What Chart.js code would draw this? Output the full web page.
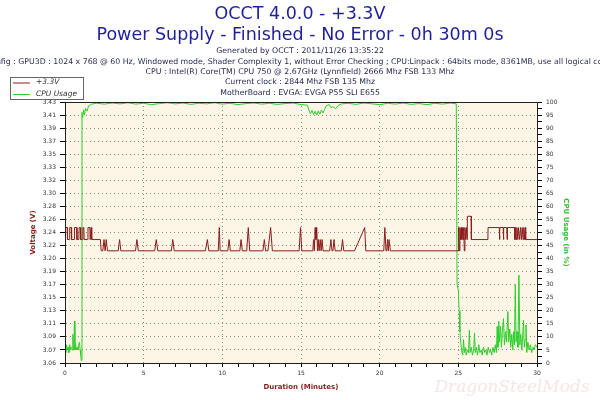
<!DOCTYPE html>
<html>
<head>
<meta charset="utf-8">
<script src="https://cdn.jsdelivr.net/npm/chart.js@4.4.0/dist/chart.umd.min.js"></script>
<style>
  html, body { margin: 0; padding: 0; background: #ffffff; }
  #wrap { width: 600px; height: 400px; }
</style>
</head>
<body>
<div id="wrap"><canvas id="chart"></canvas></div>
<script>
const titleLines = ['OCCT 4.0.0 - +3.3V', 'Power Supply - Finished - No Error - 0h 30m 0s'];
const infoLines = [
  'Generated by OCCT : 2011/11/26 13:35:22',
  'Config : GPU3D : 1024 x 768 @ 60 Hz, Windowed mode, Shader Complexity 1, without Error Checking ; CPU:Linpack : 64bits mode, 8361MB, use all logical cores',
  'CPU : Intel(R) Core(TM) CPU 750 @ 2.67GHz (Lynnfield) 2666 Mhz FSB 133 Mhz',
  'Current clock : 2844 Mhz FSB 135 Mhz',
  'MotherBoard : EVGA: EVGA P55 SLI E655'
];
const voltTickLabels = ['3.06', '3.07', '3.09', '3.11', '3.13', '3.15', '3.17', '3.19', '3.20', '3.22', '3.24',
  '3.26', '3.28', '3.30', '3.32', '3.33', '3.35', '3.37', '3.39', '3.41', '3.43'];
const voltMin = 3.06;
const voltMax = 3.43;

// +3.3V trace (minutes, volts)
const voltMinutes = [0.00, 0.02, 0.14, 0.16, 0.28, 0.30, 0.40, 0.42, 0.58, 0.60, 0.74, 0.76, 0.88, 0.90, 0.98, 1.00,
  1.12, 1.14, 1.20, 1.22, 1.44, 1.46, 1.58, 1.60, 1.66, 1.70, 2.25, 2.30, 2.40, 2.48, 2.55, 2.62, 2.70,
  3.38, 3.47, 3.55, 4.48, 4.57, 4.66, 5.70, 5.80, 5.90, 6.76, 6.85, 6.94, 8.92, 9.05, 9.14, 9.74, 9.81, 9.86,
  10.35, 10.43, 10.51, 11.11, 11.19, 11.27, 11.55, 11.65, 11.74, 12.58, 12.67, 12.75, 12.90, 13.07, 13.18,
  14.88, 14.97, 15.05, 15.75, 15.80, 15.85, 15.90, 15.95, 16.00, 16.05, 16.10, 16.15, 16.22, 16.28, 16.34, 16.40,
  16.82, 16.90, 16.97, 17.03, 17.10, 17.17, 17.56, 17.64, 17.72, 18.40, 19.05, 19.12, 20.26, 20.33, 20.40,
  20.45, 20.50, 20.55, 20.60, 20.68, 24.98, 25.00, 25.04, 25.07, 25.10, 25.14, 25.18, 25.22, 25.26, 25.30,
  25.34, 25.38, 25.42, 25.47, 25.52, 25.56, 25.57, 25.82, 25.83, 26.88, 26.89, 27.60, 27.62, 27.64, 27.85,
  27.87, 27.89, 28.08, 28.10, 28.12, 28.58, 28.60, 28.63, 28.68, 28.72, 28.78, 28.82, 28.90, 28.95, 29.02,
  29.06, 29.12, 29.16, 29.22, 29.26, 29.28, 30.00];
const voltValues = [3.235, 3.252, 3.252, 3.235, 3.235, 3.252, 3.252, 3.235, 3.235, 3.252, 3.252, 3.235, 3.235, 3.252, 3.252, 3.235,
  3.235, 3.252, 3.252, 3.235, 3.235, 3.252, 3.252, 3.235, 3.252, 3.235, 3.235, 3.219, 3.219, 3.235, 3.219, 3.235, 3.219,
  3.219, 3.235, 3.219, 3.219, 3.235, 3.219, 3.219, 3.235, 3.219, 3.219, 3.235, 3.219, 3.219, 3.235, 3.219, 3.219, 3.252, 3.219,
  3.219, 3.235, 3.219, 3.219, 3.235, 3.219, 3.219, 3.252, 3.219, 3.219, 3.235, 3.219, 3.219, 3.252, 3.219,
  3.219, 3.252, 3.219, 3.219, 3.235, 3.219, 3.252, 3.235, 3.252, 3.219, 3.235, 3.219, 3.235, 3.219, 3.235, 3.219,
  3.219, 3.235, 3.219, 3.219, 3.235, 3.219, 3.219, 3.235, 3.219, 3.219, 3.252, 3.219, 3.219, 3.252, 3.219,
  3.219, 3.235, 3.219, 3.235, 3.219, 3.219, 3.235, 3.252, 3.219, 3.252, 3.235, 3.252, 3.235, 3.252, 3.235,
  3.252, 3.219, 3.252, 3.235, 3.252, 3.235, 3.268, 3.268, 3.235, 3.235, 3.252, 3.252, 3.235, 3.252, 3.252,
  3.235, 3.252, 3.252, 3.235, 3.252, 3.252, 3.235, 3.252, 3.235, 3.252, 3.235, 3.252, 3.235, 3.252, 3.235,
  3.252, 3.235, 3.252, 3.235, 3.252, 3.235, 3.235];

// CPU usage trace (minutes, %)
const cpuMinutes = [0.00, 0.05, 0.10, 0.15, 0.20, 0.25, 0.30, 0.35, 0.40, 0.45, 0.50, 0.53, 0.57, 0.60, 0.63, 0.68,
  0.72, 0.77, 0.82, 0.87, 0.92, 0.96, 1.00, 1.03, 1.08, 1.12, 1.18, 1.24, 1.30, 1.40, 1.50, 1.70,
  2.0, 2.5, 3.0, 3.5, 4.0, 4.5, 5.0, 5.5, 6.0, 6.5, 7.0, 7.5, 8.0, 8.5, 9.0, 9.5, 10.0, 10.5, 11.0, 11.5,
  12.0, 12.5, 13.0, 13.5, 14.0, 14.5, 15.0, 15.4, 15.5, 15.6, 15.7, 15.8, 15.9, 16.0, 16.1, 16.2, 16.3, 16.4,
  16.5, 16.6, 16.8, 16.9, 17.0, 17.2, 17.4, 17.6, 18.0, 18.5, 19.0, 19.5, 20.0, 20.5, 21.0, 21.5, 22.0, 22.5,
  23.0, 23.5, 24.0, 24.5, 24.87, 24.92, 25.00, 25.05, 25.10, 25.15, 25.20, 25.28, 25.33, 25.38, 25.45, 25.50,
  25.58, 25.65, 25.70, 25.75, 25.82, 25.90, 25.97, 26.03, 26.08, 26.15, 26.22, 26.30, 26.37, 26.45, 26.52,
  26.60, 26.68, 26.75, 26.82, 26.90, 26.98, 27.05, 27.12, 27.20, 27.28, 27.35, 27.42, 27.47, 27.52, 27.57,
  27.62, 27.68, 27.74, 27.80, 27.87, 27.93, 28.00, 28.06, 28.15, 28.20, 28.27, 28.33, 28.40, 28.46, 28.52,
  28.57, 28.62, 28.67, 28.73, 28.79, 28.85, 28.91, 28.97, 29.03, 29.09, 29.14, 29.19, 29.25, 29.30, 29.35,
  29.42, 29.50, 29.58, 29.66, 29.74, 29.82, 29.90, 30.00];
const cpuValues = [6, 4, 7, 5, 6, 4, 7, 5, 6, 5, 11, 5, 6, 16, 5, 7,
  5, 6, 5, 7, 8, 5, 3, 1, 96, 94, 97, 95, 97.5, 96.5, 98.5, 99.2,
  99.5, 99.2, 99.6, 99.3, 99.7, 99.2, 99.5, 99.0, 99.4, 99.7, 99.3, 99.6, 99.1, 99.5, 99.3, 99.7, 99.2, 99.5, 99.0, 99.4,
  99.6, 99.2, 99.5, 99.1, 99.4, 99.6, 99.0, 98.8, 97.0, 95.5, 96.8, 95.2, 96.5, 95.0, 96.6, 95.4, 96.9, 95.8,
  97.2, 98.6, 99.0, 97.8, 98.2, 97.5, 98.8, 99.3, 99.5, 99.1, 99.6, 99.3, 99.0, 99.5, 99.2, 99.6, 99.1, 99.4,
  99.0, 99.5, 99.2, 99.6, 99.3, 30, 28, 20, 12, 8, 5, 3, 9, 4, 6, 3,
  5, 4, 12.6, 4, 6, 3, 5, 11.5, 4, 6, 3, 7, 4, 5, 3,
  6, 4, 5, 3, 6, 4, 5, 3, 6, 4, 7, 4, 14, 6, 16,
  8, 14, 6, 12, 17, 7, 12, 8, 19.7, 8, 13, 6, 11, 5, 12,
  7, 30, 8, 12, 6, 33.7, 7, 11, 5, 10, 16.5, 6, 9, 14.6, 4,
  8, 5, 7, 4, 6, 5, 7, 6];

const plotBg = '#fdf6e6';
const voltColor = '#8b1c1c';
const cpuColor = '#2ccf2c';

const frame = {
  id: 'frame',
  beforeDraw(chart) {
    const { ctx, chartArea: a } = chart;
    ctx.save();
    ctx.fillStyle = plotBg;
    ctx.fillRect(a.left, a.top, a.right - a.left, a.bottom - a.top);
    ctx.restore();
  },
  beforeDatasetsDraw(chart) {
    const ctx = chart.ctx;
    ctx.save();
    ctx.font = 'italic 17px "DejaVu Serif"';
    ctx.fillStyle = 'rgba(225, 130, 130, 0.22)';
    ctx.textAlign = 'center';
    ctx.textBaseline = 'middle';
    ctx.fillText('DragonSteelMods', 512, 388);
    ctx.restore();
  },
  afterDraw(chart) {
    const { ctx, chartArea: a } = chart;
    ctx.save();
    ctx.strokeStyle = '#222';
    ctx.lineWidth = 1;
    ctx.strokeRect(Math.round(a.left) + 0.5, Math.round(a.top) + 0.5, Math.round(a.right - a.left), Math.round(a.bottom - a.top));

    // header
    ctx.textAlign = 'center';
    ctx.textBaseline = 'middle';
    ctx.fillStyle = '#1f1f9c';
    ctx.font = '17.5px "DejaVu Sans"';
    ctx.fillText(titleLines[0], 300, 14);
    ctx.fillText(titleLines[1], 300, 35);
    ctx.fillStyle = '#2a2a55';
    ctx.font = '7.8px "DejaVu Sans"';
    const rows = [51, 61.5, 72, 82, 93];
    infoLines.forEach((t, i) => ctx.fillText(t, 300, rows[i]));

    // legend
    ctx.fillStyle = '#ffffff';
    ctx.fillRect(10.5, 77.5, 73, 22);
    ctx.strokeStyle = '#666';
    ctx.strokeRect(10.5, 77.5, 73, 22);
    ctx.textAlign = 'left';
    ctx.font = 'italic 7.5px "DejaVu Sans"';
    const legendRows = [82.5, 94];
    chart.data.datasets.forEach((ds, i) => {
      ctx.strokeStyle = ds.borderColor;
      ctx.beginPath();
      ctx.moveTo(13, legendRows[i] + 0.5);
      ctx.lineTo(30, legendRows[i] + 0.5);
      ctx.stroke();
      ctx.fillStyle = '#333';
      ctx.fillText(ds.label, 36, legendRows[i]);
    });
    ctx.restore();
  }
};

const tickFont = { family: 'DejaVu Sans', size: 6 };

new Chart(document.getElementById('chart'), {
  type: 'line',
  data: {
    datasets: [
      {
        label: '+3.3V',
        data: voltMinutes.map((m, i) => ({ x: m, y: voltValues[i] })),
        yAxisID: 'y',
        borderColor: voltColor,
        borderWidth: 1,
        pointRadius: 0,
        tension: 0
      },
      {
        label: 'CPU Usage',
        data: cpuMinutes.map((m, i) => ({ x: m, y: cpuValues[i] })),
        yAxisID: 'y2',
        borderColor: cpuColor,
        borderWidth: 1,
        pointRadius: 0,
        tension: 0
      }
    ]
  },
  options: {
    responsive: true,
    maintainAspectRatio: false,
    animation: false,
    devicePixelRatio: 1,
    layout: { padding: { top: 102, left: 0, right: 0, bottom: 0 } },
    plugins: {
      legend: { display: false },
      title: { display: false },
      tooltip: { enabled: false }
    },
    scales: {
      x: {
        type: 'linear',
        min: 0,
        max: 30,
        afterFit: s => { s.height = 37; },
        ticks: {
          stepSize: 1,
          autoSkip: false,
          maxRotation: 0,
          padding: 3,
          color: '#333',
          font: tickFont,
          callback: v => (v % 5 === 0 ? v : '')
        },
        grid: {
          color: c => (c.tick && c.tick.value % 5 === 0 ? '#8a8a8a' : 'rgba(0,0,0,0)'),
          tickColor: '#000',
          tickLength: 4
        },
        border: { color: '#000', dash: [1, 3] },
        title: {
          display: true,
          text: 'Duration (Minutes)',
          color: '#8b1c1c',
          font: { family: 'DejaVu Sans', size: 7, weight: 'bold' },
          padding: { top: 0, bottom: 9 }
        }
      },
      y: {
        type: 'linear',
        position: 'left',
        min: voltMin,
        max: voltMax,
        afterFit: s => { s.width = 65; },
        afterBuildTicks: s => {
          const n = (voltTickLabels.length - 1) * 2;
          s.ticks = [];
          for (let i = 0; i <= n; i++) s.ticks.push({ value: voltMin + (voltMax - voltMin) * i / n });
        },
        ticks: {
          padding: 4,
          color: '#333',
          font: tickFont,
          callback: (v, i) => (i % 2 === 0 ? voltTickLabels[i / 2] : '')
        },
        grid: {
          color: c => (c.index % 2 === 0 ? '#8a8a8a' : 'rgba(0,0,0,0)'),
          tickColor: '#000',
          tickLength: 5
        },
        border: { color: '#000', dash: [1, 3] },
        title: {
          display: true,
          text: 'Voltage (V)',
          color: '#8b1c1c',
          font: { family: 'DejaVu Sans', size: 7, weight: 'bold' },
          padding: { top: 29, bottom: 0 }
        }
      },
      y2: {
        type: 'linear',
        position: 'right',
        min: 0,
        max: 100,
        afterFit: s => { s.width = 63; },
        ticks: {
          stepSize: 2.5,
          autoSkip: false,
          padding: 4,
          color: '#333',
          font: tickFont,
          callback: v => (v % 5 === 0 ? v : '')
        },
        grid: { drawOnChartArea: false, tickColor: '#000', tickLength: 5 },
        border: { color: '#000' },
        title: {
          display: true,
          text: 'CPU Usage (in %)',
          color: '#2cbf2c',
          font: { family: 'DejaVu Sans', size: 7, weight: 'bold' },
          padding: { top: 30, bottom: 0 }
        }
      }
    }
  },
  plugins: [frame]
});
</script>
</body>
</html>
